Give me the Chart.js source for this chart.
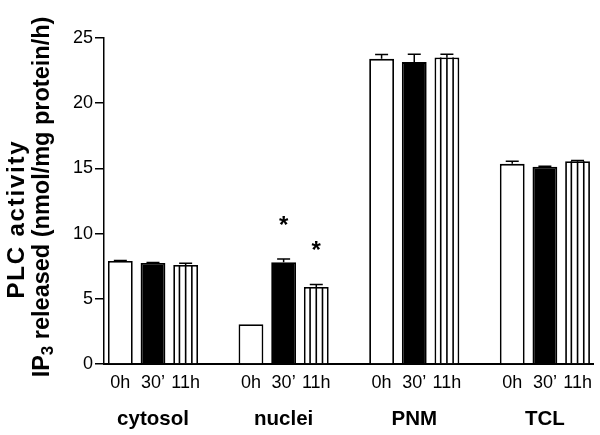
<!DOCTYPE html>
<html>
<head>
<meta charset="utf-8">
<script src="https://cdn.jsdelivr.net/npm/chart.js@4"></script>
<style>
  html, body { margin: 0; padding: 0; background: #fff; }
  #wrap { width: 600px; height: 435px; position: relative; }
</style>
</head>
<body>
<div id="wrap"><canvas id="plc"></canvas></div>
<script>
// fractions and time points
const groups = ['cytosol', 'nuclei', 'PNM', 'TCL'];
const times = ['0h', '30\u2019', '11h'];

// PLC activity (nmol/mg protein/h), one array per time point
const val0h  = [7.9, 3.05, 23.4, 15.35];
const val30  = [7.75, 7.8, 23.15, 15.12];
const val11h = [7.6, 5.9, 23.5, 15.55];

// SEM, upper half only
const err0h  = [0.04, 0, 0.33, 0.2];
const err30  = [0.04, 0.25, 0.6, 0.05];
const err11h = [0.12, 0.2, 0.26, 0.05];

// significance marks (*)
const star0h  = [false, false, false, false];
const star30  = [false, true, false, false];
const star11h = [false, true, false, false];

const yTicks = [0, 5, 10, 15, 20, 25];
// second title line is split so the 3 can be drawn as a subscript
const yTitle1 = 'PLC activity';
const yTitle2 = ['IP', '3', ' released (nmol/mg protein/h)'];

const FONT = '"Liberation Sans", Arial, Helvetica, sans-serif';

// 3 bars + 1 empty slot per group (last gap dropped)
const nSlots = groups.length * 4 - 1;
const slotLabels = [];
const groupLabels = [];
for (let i = 0; i < nSlots; i++) {
    const t = i % 4;
    slotLabels.push(t < 3 ? times[t] : '');
    groupLabels.push(t === 1 ? groups[Math.floor(i / 4)] : '');
}

function spread(values, t) {
    const out = new Array(nSlots).fill(null);
    values.forEach((v, g) => { out[g * 4 + t] = v; });
    return out;
}

const series = [
    { vals: val0h,  errs: err0h,  stars: star0h,  fill: '#ffffff', striped: false },
    { vals: val30,  errs: err30,  stars: star30,  fill: '#000000', striped: false },
    { vals: val11h, errs: err11h, stars: star11h, fill: '#ffffff', striped: true }
];

// error bars, stripes and asterisks drawn from the bar elements
const extrasPlugin = {
    id: 'extras',
    afterDatasetsDraw(chart) {
        const ctx = chart.ctx;
        const y = chart.scales.y;
        ctx.save();
        series.forEach((s, di) => {
            const meta = chart.getDatasetMeta(di);
            s.vals.forEach((v, g) => {
                const bar = meta.data[g * 4 + di];
                if (!bar) return;
                const p = bar.getProps(['x', 'y', 'base', 'width'], true);
                const left = p.x - p.width / 2;

                if (s.striped) {
                    ctx.strokeStyle = '#000';
                    ctx.lineWidth = 1.6;
                    ctx.beginPath();
                    for (let k = 1; k <= 3; k++) {
                        const sx = left + p.width * k / 4;
                        ctx.moveTo(sx, p.y);
                        ctx.lineTo(sx, p.base);
                    }
                    ctx.stroke();
                }

                const e = s.errs[g];
                const topPx = y.getPixelForValue(v + e);
                if (e > 0) {
                    ctx.strokeStyle = '#000';
                    ctx.lineWidth = 1.5;
                    ctx.beginPath();
                    ctx.moveTo(p.x, p.y);
                    ctx.lineTo(p.x, topPx);
                    ctx.moveTo(p.x - 6.5, topPx);
                    ctx.lineTo(p.x + 6.5, topPx);
                    ctx.stroke();
                }

                if (s.stars[g]) {
                    ctx.fillStyle = '#000';
                    ctx.font = 'bold 24px ' + FONT;
                    ctx.textAlign = 'center';
                    ctx.textBaseline = 'middle';
                    ctx.fillText('*', p.x, topPx - 33);
                }
            });
        });
        ctx.restore();
    }
};

// two-line rotated y title
const yTitlePlugin = {
    id: 'yTitle',
    afterDraw(chart) {
        const ctx = chart.ctx;
        const mid = (chart.chartArea.top + chart.chartArea.bottom) / 2;
        ctx.save();
        ctx.fillStyle = '#000';
        ctx.textBaseline = 'middle';

        // line 1
        ctx.save();
        ctx.translate(17, mid + 18);
        ctx.rotate(-Math.PI / 2);
        ctx.font = 'bold 24px ' + FONT;
        ctx.letterSpacing = '1.8px';
        ctx.textAlign = 'center';
        ctx.fillText(yTitle1, 0, 0);
        ctx.restore();

        // line 2 with subscript
        const big = 'bold 23.5px ' + FONT;
        const small = 'bold 17px ' + FONT;
        ctx.save();
        ctx.translate(43, mid - 4);
        ctx.rotate(-Math.PI / 2);
        ctx.textAlign = 'left';
        ctx.font = big;
        const w0 = ctx.measureText(yTitle2[0]).width;
        const w2 = ctx.measureText(yTitle2[2]).width;
        ctx.font = small;
        const w1 = ctx.measureText(yTitle2[1]).width;
        let x = -(w0 + w1 + w2) / 2;
        ctx.font = big;
        ctx.fillText(yTitle2[0], x, 0);
        x += w0;
        ctx.font = small;
        ctx.fillText(yTitle2[1], x, 5);
        x += w1;
        ctx.font = big;
        ctx.fillText(yTitle2[2], x, 0);
        ctx.restore();

        ctx.restore();
    }
};

new Chart(document.getElementById('plc'), {
    type: 'bar',
    data: {
        labels: slotLabels,
        datasets: series.map((s, t) => ({
            label: times[t],
            data: spread(s.vals, t),
            backgroundColor: s.fill,
            borderColor: '#000',
            borderWidth: 1.8,
            borderSkipped: 'bottom',
            grouped: false,
            barPercentage: 0.76,
            categoryPercentage: 1.0
        }))
    },
    options: {
        responsive: true,
        maintainAspectRatio: false,
        animation: false,
        layout: { padding: { left: 0, right: 3, top: 38, bottom: 0 } },
        plugins: {
            legend: { display: false },
            tooltip: { enabled: false }
        },
        scales: {
            x: {
                type: 'category',
                labels: slotLabels,
                grid: { display: false, drawTicks: false },
                border: { display: true, color: '#000', width: 2 },
                afterFit(scale) { scale.height = 30; },
                ticks: {
                    autoSkip: false, maxRotation: 0, padding: 8,
                    color: '#000', font: { family: FONT, size: 18 }
                }
            },
            x2: {
                type: 'category',
                position: 'bottom',
                labels: groupLabels,
                grid: { display: false, drawTicks: false },
                border: { display: false },
                afterFit(scale) { scale.height = 41; },
                ticks: {
                    autoSkip: false, maxRotation: 0, padding: 13,
                    color: '#000', font: { family: FONT, size: 20.5, weight: 'bold' }
                }
            },
            y: {
                min: 0,
                max: 25,
                afterBuildTicks(scale) {
                    scale.ticks = yTicks.map(v => ({ value: v }));
                },
                afterFit(scale) { scale.width = 104; },
                grid: {
                    drawOnChartArea: false, drawTicks: true, tickLength: 9,
                    color: '#000', lineWidth: 1.5
                },
                border: { display: true, color: '#000', width: 1.5 },
                ticks: {
                    padding: 2, color: '#000',
                    font: { family: FONT, size: 18 }
                },
                title: { display: false }
            }
        }
    },
    plugins: [extrasPlugin, yTitlePlugin]
});
</script>
</body>
</html>
